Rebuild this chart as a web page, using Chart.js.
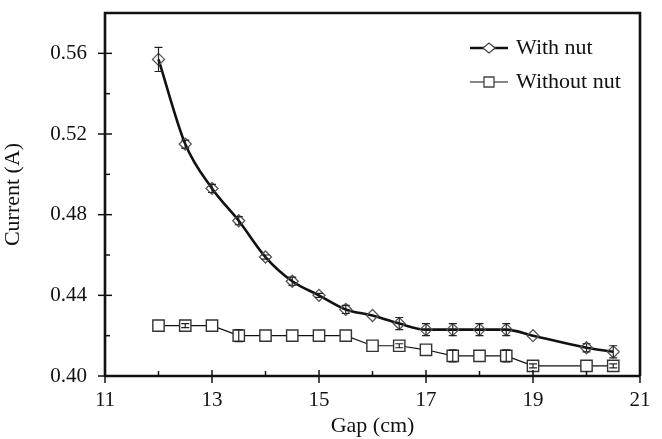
<!DOCTYPE html>
<html>
<head>
<meta charset="utf-8">
<script src="https://cdn.jsdelivr.net/npm/chart.js@4/dist/chart.umd.min.js"></script>
<style>
html,body{margin:0;padding:0;background:#fff;}
#wrap{width:662px;height:439px;position:relative;}
</style>
</head>
<body>
<div id="wrap"><canvas id="c" width="662" height="439"></canvas></div>
<script>
const gap = [12,12.5,13,13.5,14,14.5,15,15.5,16,16.5,17,17.5,18,18.5,19,20,20.5];
const withNut = [0.557,0.515,0.493,0.477,0.459,0.447,0.440,0.433,0.430,0.426,0.423,0.423,0.423,0.423,0.420,0.414,0.412];
const withNutErr = [0.006,0.002,0.002,0.002,0.001,0.002,0.001,0.002,0,0.003,0.003,0.003,0.003,0.003,0,0.002,0.003];
const withoutNut = [0.425,0.425,0.425,0.420,0.420,0.420,0.420,0.420,0.415,0.415,0.413,0.410,0.410,0.410,0.405,0.405,0.405];
const withoutNutErr = [0,0.001,0,0.003,0,0,0,0,0,0.001,0,0.003,0,0.003,0.001,0,0.001];
const seriesLabels = ["With nut","Without nut"];
const xTitle = "Gap (cm)";
const yTitle = "Current (A)";

const FONT = "'Liberation Serif', 'DejaVu Serif', serif";
const INK = '#111';

const errPlugin = {
  id:'errbars',
  afterDatasetsDraw(chart){
    const ctx = chart.ctx, xs = chart.scales.x, ys = chart.scales.y;
    const errs = [withNutErr, withoutNutErr];
    const vals = [withNut, withoutNut];
    ctx.save();
    ctx.strokeStyle = '#222';
    ctx.lineWidth = 1.2;
    errs.forEach((e, k) => {
      e.forEach((d, i) => {
        if (!d) return;
        const x = xs.getPixelForValue(gap[i]);
        const y1 = ys.getPixelForValue(vals[k][i] + d);
        const y2 = ys.getPixelForValue(vals[k][i] - d);
        ctx.beginPath();
        ctx.moveTo(x, y1); ctx.lineTo(x, y2);
        ctx.moveTo(x-4, y1); ctx.lineTo(x+4, y1);
        ctx.moveTo(x-4, y2); ctx.lineTo(x+4, y2);
        ctx.stroke();
      });
    });
    ctx.restore();
  }
};

const framePlugin = {
  id:'frame',
  afterDraw(chart){
    const ctx = chart.ctx, a = chart.chartArea, xs = chart.scales.x, ys = chart.scales.y;
    ctx.save();
    ctx.strokeStyle = INK;
    ctx.lineWidth = 1.5;
    xs.ticks.forEach(t => {
      const x = xs.getPixelForValue(t.value);
      const major = Math.round(t.value) % 2 === 1;
      ctx.beginPath();
      if (major) { ctx.moveTo(x, a.bottom - 6); ctx.lineTo(x, a.bottom + 7); }
      else { ctx.moveTo(x, a.bottom); ctx.lineTo(x, a.bottom - 5); }
      ctx.stroke();
    });
    ys.ticks.forEach((t, i) => {
      const y = ys.getPixelForValue(t.value);
      if (t.value > 0.575) return;
      const major = i % 2 === 0;
      ctx.beginPath();
      if (major) { ctx.moveTo(a.left - 7, y); ctx.lineTo(a.left + 7, y); }
      else { ctx.moveTo(a.left, y); ctx.lineTo(a.left + 5, y); }
      ctx.stroke();
    });
    ctx.lineWidth = 2.6;
    ctx.beginPath();
    ctx.moveTo(a.left, a.bottom); ctx.lineTo(a.right, a.bottom);
    ctx.moveTo(a.left, a.bottom + 1); ctx.lineTo(a.left, a.top);
    ctx.lineTo(a.right, a.top); ctx.lineTo(a.right, a.bottom);
    ctx.stroke();
    const lx1 = 470, lx2 = 508, lxm = 489;
    const rows = [48, 82];
    ctx.font = "22px " + FONT;
    ctx.fillStyle = INK;
    ctx.textBaseline = 'middle';
    ctx.textAlign = 'left';
    rows.forEach((y, k) => {
      ctx.strokeStyle = INK;
      ctx.lineWidth = k === 0 ? 2.4 : 1.2;
      ctx.beginPath(); ctx.moveTo(lx1, y); ctx.lineTo(lx2, y); ctx.stroke();
      ctx.lineWidth = 1.3;
      ctx.strokeStyle = '#444';
      ctx.fillStyle = '#fff';
      ctx.beginPath();
      if (k === 0) {
        ctx.moveTo(lxm - 6, y); ctx.lineTo(lxm, y - 5); ctx.lineTo(lxm + 6, y); ctx.lineTo(lxm, y + 5); ctx.closePath();
      } else {
        ctx.rect(lxm - 5, y - 5, 10, 10);
      }
      ctx.fill(); ctx.stroke();
      ctx.fillStyle = INK;
      ctx.fillText(seriesLabels[k], 516, y);
    });
    ctx.restore();
  }
};

new Chart(document.getElementById('c'), {
  type:'line',
  data:{
    datasets:[
      {
        label: seriesLabels[0],
        data: gap.map((g,i)=>({x:g, y:withNut[i]})),
        borderColor: INK, borderWidth: 2.6,
        tension: 0.4, cubicInterpolationMode: 'monotone',
        pointStyle: 'rectRot', pointRadius: 6,
        pointBackgroundColor: 'rgba(255,255,255,0)',
        pointBorderColor: '#555', pointBorderWidth: 1.3
      },
      {
        label: seriesLabels[1],
        data: gap.map((g,i)=>({x:g, y:withoutNut[i]})),
        borderColor: INK, borderWidth: 1.2,
        tension: 0,
        pointStyle: 'rect', pointRadius: 8,
        pointBackgroundColor: '#fff',
        pointBorderColor: '#333', pointBorderWidth: 1.4
      }
    ]
  },
  options:{
    responsive:false,
    animation:false,
    devicePixelRatio:1,
    layout:{padding:{top:13, right:22, left:0, bottom:0}},
    plugins:{legend:{display:false}, tooltip:{enabled:false}},
    scales:{
      x:{
        type:'linear', min:11, max:21,
        grid:{display:false, drawTicks:false},
        border:{display:false},
        afterFit(s){ s.height = 63; s.paddingLeft = 0; s.paddingRight = 0; },
        ticks:{
          stepSize:1, autoSkip:false, maxRotation:0, padding:12,
          color:INK, font:{family:FONT, size:21},
          callback:(v)=> (Math.round(v)%2===1 ? String(v) : '')
        },
        title:{display:true, text:xTitle, color:INK, font:{family:FONT, size:22}, padding:{top:0,bottom:0}}
      },
      y:{
        min:0.40, max:0.58,
        grid:{display:false, drawTicks:false},
        border:{display:false},
        afterFit(s){ s.width = 105; s.paddingTop = 0; s.paddingBottom = 0; },
        ticks:{
          stepSize:0.02, autoSkip:false, padding:18,
          color:INK, font:{family:FONT, size:21},
          callback:(v,i)=> (i%2===0 && v<0.575 ? v.toFixed(2) : '')
        },
        title:{display:true, text:yTitle, color:INK, font:{family:FONT, size:22}, padding:{top:0,bottom:2}}
      }
    }
  },
  plugins:[errPlugin, framePlugin]
});
</script>
</body>
</html>
